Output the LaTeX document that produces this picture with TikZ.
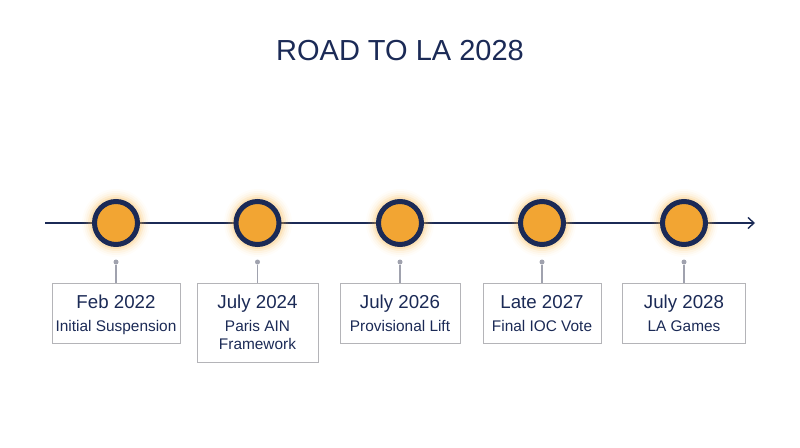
\documentclass[tikz,border=0pt]{standalone}
\usepackage{fontspec}
\setmainfont{Liberation Sans}
\usetikzlibrary{arrows.meta}
\definecolor{navy}{HTML}{1B2A56}
\definecolor{dot}{HTML}{F2A533}
\definecolor{glow}{HTML}{F7B548}
\definecolor{boxline}{HTML}{B4B4B8}
\definecolor{stem}{HTML}{A0A2AE}
\tikzset{
  dotnode/.style={circle,fill=dot,draw=navy,line width=5pt,minimum size=43pt,inner sep=0pt},
  pin/.style={circle,fill=stem,inner sep=0pt,minimum size=5pt},
  stemline/.style={draw=stem,line width=1.2pt},
  boxnode/.style={draw=boxline,line width=0.9pt,fill=white,anchor=north,inner sep=0pt},
  datetext/.style={text=navy,font=\fontsize{18.7}{20}\selectfont,inner sep=0pt,anchor=base},
  subtext/.style={text=navy,font=\fontsize{15.4}{16}\selectfont,inner sep=0pt,anchor=base},
  axis/.style={draw=navy,line width=1.4pt,-{Straight Barb[length=6pt,width=11pt,line width=1.4pt]}}
}
\begin{document}
\begin{tikzpicture}[x=1pt,y=-1pt]
\useasboundingbox (0,0) rectangle (800,447);
\node[text=navy,font=\fontsize{29}{30}\selectfont,inner sep=0pt,anchor=base] (title) at (400,60.5) {ROAD TO LA 2028};
\coordinate (axs) at (45,223);
\coordinate (axe) at (755,223);
\draw[axis] (axs) -- (axe);
\foreach \x in {116,258,400,542,684}{
  \foreach \r/\o in {34/0.03,32/0.05,30/0.08,28/0.12,26/0.18}{
    \fill[glow,opacity=\o] (\x,223) circle (\r);
  }
}
\foreach \i/\x/\w/\h in {1/116/128/60,2/257.5/121/79,3/400/120/60,4/542/118/60,5/684/123/60}{
  \node[dotnode] (c\i) at (\x,223) {};
  \node[pin] (p\i) at (\x,262) {};
  \node[boxnode,minimum width=\w pt,minimum height=\h pt] (b\i) at (\x,283) {};
  \draw[stemline] (p\i) -- (b\i.north);
}
\node[datetext] (d1) at (116,308) {Feb 2022};
\node[subtext] (s1) at (116,331) {Initial Suspension};
\node[datetext] (d2) at (257.5,308) {July 2024};
\node[subtext] (s2) at (257.5,331) {Paris AIN};
\node[subtext] (s2b) at (257.5,349.5) {Framework};
\node[datetext] (d3) at (400,308) {July 2026};
\node[subtext] (s3) at (400,331) {Provisional Lift};
\node[datetext] (d4) at (542,308) {Late 2027};
\node[subtext] (s4) at (542,331) {Final IOC Vote};
\node[datetext] (d5) at (684,308) {July 2028};
\node[subtext] (s5) at (684,331) {LA Games};
\end{tikzpicture}
\end{document}
